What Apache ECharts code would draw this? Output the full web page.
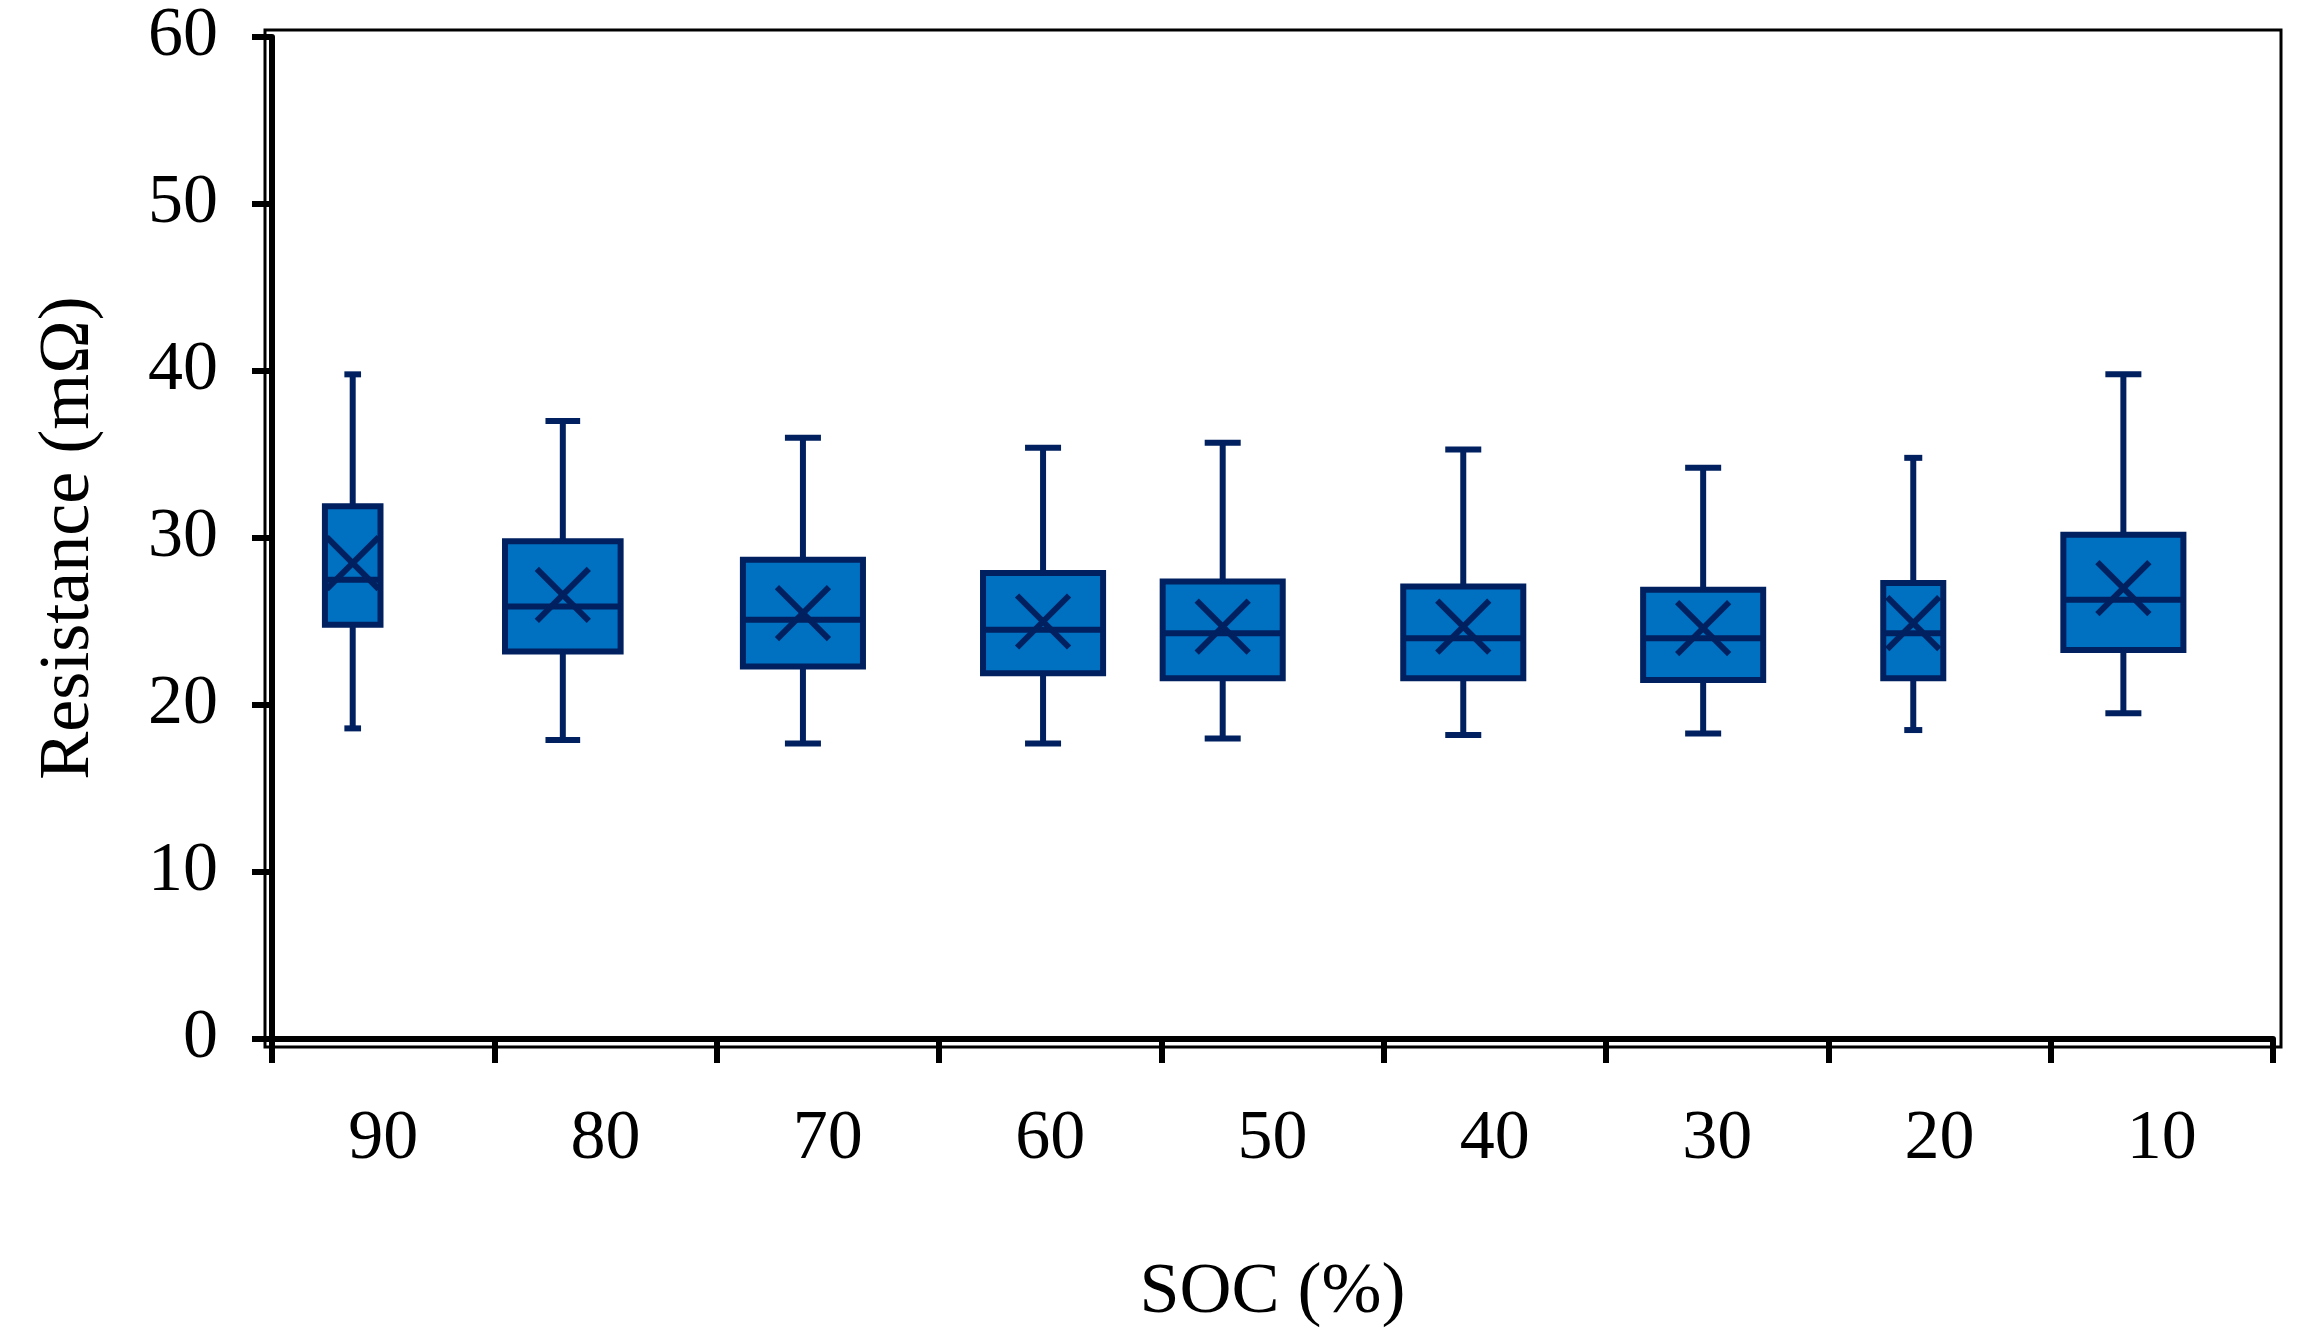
<!DOCTYPE html>
<html>
<head>
<meta charset="utf-8">
<script src="https://cdn.jsdelivr.net/npm/echarts@6/dist/echarts.min.js"></script>
<style>
html,body{margin:0;padding:0;background:#fff;}
#chart{width:2311px;height:1344px;}
</style>
</head>
<body>
<div id="chart"></div>
<script>
// ---- data ----
const categories = ["90", "80", "70", "60", "50", "40", "30", "20", "10"];
const whiskerLow  = [18.6, 17.9, 17.7, 17.7, 18.0, 18.2, 18.3, 18.5, 19.5];
const quartile1   = [24.8, 23.2, 22.3, 21.9, 21.6, 21.6, 21.5, 21.6, 23.3];
const medianVal   = [27.5, 25.9, 25.1, 24.5, 24.3, 24.0, 24.0, 24.3, 26.3];
const quartile3   = [31.9, 29.8, 28.7, 27.9, 27.4, 27.1, 26.9, 27.3, 30.2];
const whiskerHigh = [39.8, 37.0, 36.0, 35.4, 35.7, 35.3, 34.2, 34.8, 39.8];
const meanVal     = [28.5, 26.6, 25.5, 25.0, 24.7, 24.7, 24.6, 24.9, 27.0];
const yTicks = [0, 10, 20, 30, 40, 50, 60];

// ---- layout (category units, not data) ----
const boxOffset = [-0.137, -0.192, -0.112, -0.032, -0.224, -0.142, -0.063, -0.118, -0.173];
const boxWidth  = [0.25, 0.52, 0.54, 0.54, 0.54, 0.54, 0.54, 0.27, 0.54];

const FILL = '#0070C0';
const EDGE = '#002060';
const FONT = '"Liberation Serif", "Times New Roman", serif';

const seriesData = categories.map((c, i) => [
  i + 0.5 + boxOffset[i], whiskerLow[i], quartile1[i], medianVal[i],
  quartile3[i], whiskerHigh[i], meanVal[i], boxWidth[i]
]);

function renderItem(params, api) {
  const xc = api.value(0);
  const w = api.value(7);
  const pLow = api.coord([xc, api.value(1)]);
  const pQ1 = api.coord([xc, api.value(2)]);
  const pMed = api.coord([xc, api.value(3)]);
  const pQ3 = api.coord([xc, api.value(4)]);
  const pHigh = api.coord([xc, api.value(5)]);
  const pMean = api.coord([xc, api.value(6)]);
  const pw = api.size([w, 0])[0];
  const cw = pw * 0.3;
  const x = pLow[0];
  const lw = 6;
  const ls = {stroke: EDGE, lineWidth: lw, fill: null};
  const half = 26;
  return {
    type: 'group',
    children: [
      {type: 'line', shape: {x1: x, y1: pHigh[1], x2: x, y2: pQ3[1]}, style: ls},
      {type: 'line', shape: {x1: x, y1: pLow[1], x2: x, y2: pQ1[1]}, style: ls},
      {type: 'line', shape: {x1: x - cw / 2, y1: pHigh[1], x2: x + cw / 2, y2: pHigh[1]}, style: ls},
      {type: 'line', shape: {x1: x - cw / 2, y1: pLow[1], x2: x + cw / 2, y2: pLow[1]}, style: ls},
      {type: 'rect', shape: {x: x - pw / 2, y: pQ3[1], width: pw, height: pQ1[1] - pQ3[1]},
        style: {fill: FILL, stroke: EDGE, lineWidth: lw}},
      {type: 'line', shape: {x1: x - pw / 2, y1: pMed[1], x2: x + pw / 2, y2: pMed[1]}, style: ls},
      {type: 'line', shape: {x1: x - half, y1: pMean[1] - half, x2: x + half, y2: pMean[1] + half}, style: ls},
      {type: 'line', shape: {x1: x - half, y1: pMean[1] + half, x2: x + half, y2: pMean[1] - half}, style: ls}
    ]
  };
}

const chart = echarts.init(document.getElementById('chart'), null, {renderer: 'canvas'});
chart.setOption({
  backgroundColor: '#fff',
  animation: false,
  grid: [
    {left: 272, right: 38, top: 37, bottom: 305, show: false},
    {left: 265, right: 30, top: 30, bottom: 297, show: true, borderColor: '#000', borderWidth: 3, backgroundColor: 'transparent'}
  ],
  xAxis: [
    {
      type: 'category', gridIndex: 0, data: categories,
      boundaryGap: true,
      axisLine: {show: true, lineStyle: {color: '#000', width: 6}},
      axisTick: {show: true, length: 24, alignWithLabel: false, lineStyle: {color: '#000', width: 6}},
      axisLabel: {color: '#000', fontFamily: FONT, fontSize: 70, margin: 66},
      splitLine: {show: false},
      name: 'SOC (%)', nameLocation: 'middle', nameGap: 218,
      nameTextStyle: {color: '#000', fontFamily: FONT, fontSize: 72}
    },
    {
      type: 'value', gridIndex: 0, min: 0, max: 9, show: false
    }
  ],
  yAxis: [{
    type: 'value', gridIndex: 0, min: yTicks[0], max: yTicks[yTicks.length - 1], interval: 10,
    axisLine: {show: true, lineStyle: {color: '#000', width: 6}},
    axisTick: {show: true, length: 20, inside: false, lineStyle: {color: '#000', width: 6}},
    axisLabel: {color: '#000', fontFamily: FONT, fontSize: 70, margin: 54},
    splitLine: {show: false},
    name: 'Resistance (mΩ)', nameLocation: 'middle', nameGap: 167,
    nameTextStyle: {color: '#000', fontFamily: FONT, fontSize: 72}
  }],
  series: [{
    type: 'custom',
    xAxisIndex: 1, yAxisIndex: 0,
    renderItem: renderItem,
    data: seriesData,
    encode: {x: 0, y: [1, 2, 3, 4, 5, 6]},
    clip: false
  }]
});
</script>
</body>
</html>
